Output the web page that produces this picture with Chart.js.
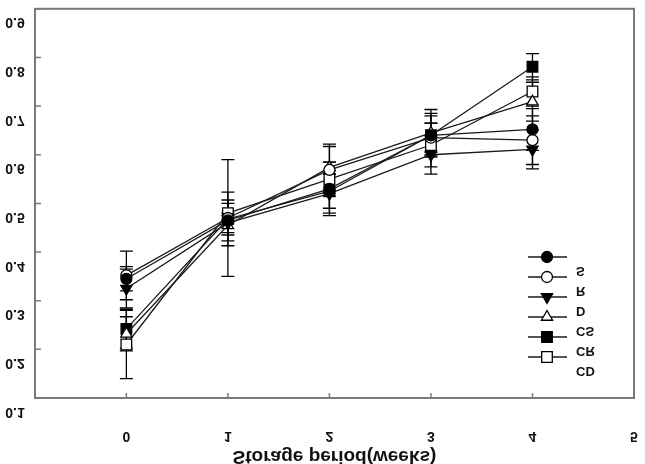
<!DOCTYPE html>
<html><head><meta charset="utf-8">
<script src="https://cdn.jsdelivr.net/npm/chart.js@4.4.1/dist/chart.umd.min.js"></script>
<style>html,body{margin:0;padding:0;background:#fff;overflow:hidden}#wrap{width:645px;height:464px;position:relative}</style>
</head><body><div id="wrap"><canvas id="c" width="645" height="464"></canvas></div>
<script>
const weeks = [0, 1, 2, 3, 4];
const xTickValues = [0, 1, 2, 3, 4, 5];
const xTickLabels = ['0', '1', '2', '3', '4', '5'];
const yTickValues = [0.1, 0.2, 0.3, 0.4, 0.5, 0.6, 0.7, 0.8, 0.9];
const yTickLabels = ['0.1', '0.2', '0.3', '0.4', '0.5', '0.6', '0.7', '0.8', '0.9'];
const xTitle = 'Storage period(weeks)';
const seriesNames = ['S', 'R', 'D', 'CS', 'CR', 'CD'];

const S  = [0.345, 0.465, 0.530, 0.640, 0.652];
const R  = [0.352, 0.470, 0.569, 0.635, 0.630];
const D  = [0.325, 0.460, 0.520, 0.600, 0.611];
const CS = [0.232, 0.455, 0.574, 0.645, 0.709];
const CR = [0.242, 0.468, 0.525, 0.640, 0.781];
const CD = [0.210, 0.480, 0.550, 0.620, 0.730];

const S_err  = [0.025, 0.042, 0.055, 0.045, 0.043];
const R_err  = [0.050, 0.120, 0.048, 0.030, 0.050];
const D_err  = [0.040, 0.020, 0.040, 0.040, 0.040];
const CS_err = [0.035, 0.020, 0.048, 0.048, 0.040];
const CR_err = [0.040, 0.055, 0.035, 0.040, 0.027];
const CD_err = [0.070, 0.020, 0.035, 0.045, 0.030];

const values = [S, R, D, CS, CR, CD];
const errors = [S_err, R_err, D_err, CS_err, CR_err, CD_err];
const styles = [
  {pointStyle: 'circle',   rotation: 0,   fill: '#000', radius: 5.5},
  {pointStyle: 'circle',   rotation: 0,   fill: '#fff', radius: 5.5},
  {pointStyle: 'triangle', rotation: 180, fill: '#000', radius: 6.5},
  {pointStyle: 'triangle', rotation: 0,   fill: '#fff', radius: 6.5},
  {pointStyle: 'rect',     rotation: 0,   fill: '#000', radius: 7.5},
  {pointStyle: 'rect',     rotation: 0,   fill: '#fff', radius: 7.5}
];

const datasets = seriesNames.map((n, i) => ({
  label: n,
  data: weeks.map((w, j) => ({x: w, y: values[i][j]})),
  errs: errors[i],
  borderColor: '#1a1a1a',
  borderWidth: 1.3,
  backgroundColor: styles[i].fill,
  pointBackgroundColor: styles[i].fill,
  pointBorderColor: '#000',
  pointBorderWidth: 1.3,
  pointStyle: styles[i].pointStyle,
  pointRotation: styles[i].rotation,
  pointRadius: styles[i].radius,
  tension: 0,
  fill: false
}));

function flipText(ctx, text, x, y, align) {
  ctx.save();
  ctx.translate(x, y);
  ctx.scale(1, -1);
  ctx.textAlign = align;
  ctx.textBaseline = 'middle';
  ctx.fillText(text, 0, 0);
  ctx.restore();
}

const deco = {
  id: 'deco',
  beforeDatasetsDraw(chart) {
    const ctx = chart.ctx, xs = chart.scales.x, ys = chart.scales.y;
    ctx.save();
    ctx.strokeStyle = '#000';
    ctx.lineWidth = 1.3;
    chart.data.datasets.forEach(ds => {
      ds.data.forEach((p, j) => {
        const e = ds.errs[j];
        const px = xs.getPixelForValue(p.x);
        const top = ys.getPixelForValue(p.y + e), bot = ys.getPixelForValue(p.y - e);
        ctx.beginPath();
        ctx.moveTo(px, top); ctx.lineTo(px, bot);
        ctx.moveTo(px - 6.5, top); ctx.lineTo(px + 6.5, top);
        ctx.moveTo(px - 6.5, bot); ctx.lineTo(px + 6.5, bot);
        ctx.stroke();
      });
    });
    ctx.restore();
  },
  afterDraw(chart) {
    const ctx = chart.ctx, xs = chart.scales.x, ys = chart.scales.y, a = chart.chartArea;
    ctx.save();
    ctx.strokeStyle = '#7a7a7a';
    ctx.lineWidth = 2;
    ctx.strokeRect(a.left, a.top, a.right - a.left, a.bottom - a.top);
    ctx.lineWidth = 1.5;
    ctx.beginPath();
    yTickValues.forEach(v => {
      const py = ys.getPixelForValue(v);
      ctx.moveTo(a.left, py); ctx.lineTo(a.left + 6, py);
    });
    xTickValues.forEach(v => {
      const px = xs.getPixelForValue(v);
      ctx.moveTo(px, a.bottom); ctx.lineTo(px, a.bottom - 5);
    });
    ctx.stroke();
    ctx.fillStyle = '#111';
    ctx.font = 'bold 14px "Liberation Sans", Arial, sans-serif';
    yTickValues.forEach((v, i) => {
      flipText(ctx, yTickLabels[i], 15, ys.getPixelForValue(v) + 13.5, 'center');
    });
    xTickValues.forEach((v, i) => {
      flipText(ctx, xTickLabels[i], xs.getPixelForValue(v), a.bottom + 38, 'center');
    });
    ctx.font = 'bold 19px "Liberation Sans", Arial, sans-serif';
    flipText(ctx, xTitle, (a.left + a.right) / 2, a.bottom + 58, 'center');
    ctx.font = 'bold 13px "Liberation Sans", Arial, sans-serif';
    chart.data.datasets.forEach((ds, i) => {
      const ly = 257 + 20 * i;
      ctx.strokeStyle = '#1a1a1a';
      ctx.lineWidth = 1.3;
      ctx.beginPath(); ctx.moveTo(528, ly); ctx.lineTo(567, ly); ctx.stroke();
      ctx.fillStyle = ds.pointBackgroundColor;
      ctx.strokeStyle = '#000';
      Chart.helpers.drawPoint(ctx, {pointStyle: ds.pointStyle, rotation: ds.pointRotation, radius: ds.pointRadius, borderWidth: 1.3}, 547, ly);
      ctx.fillStyle = '#111';
      flipText(ctx, ds.label, 576, ly + 13.5, 'left');
    });
    ctx.restore();
  }
};

new Chart(document.getElementById('c'), {
  type: 'line',
  data: {datasets},
  options: {
    responsive: false,
    animation: false,
    devicePixelRatio: 1,
    layout: {padding: {left: 35, top: 7, right: 11, bottom: 66}},
    plugins: {legend: {display: false}, tooltip: {enabled: false}},
    scales: {
      x: {type: 'linear', min: -0.9, max: 5, display: false},
      y: {type: 'linear', min: 0.1, max: 0.9, display: false}
    }
  },
  plugins: [deco]
});
</script>
</body></html>
